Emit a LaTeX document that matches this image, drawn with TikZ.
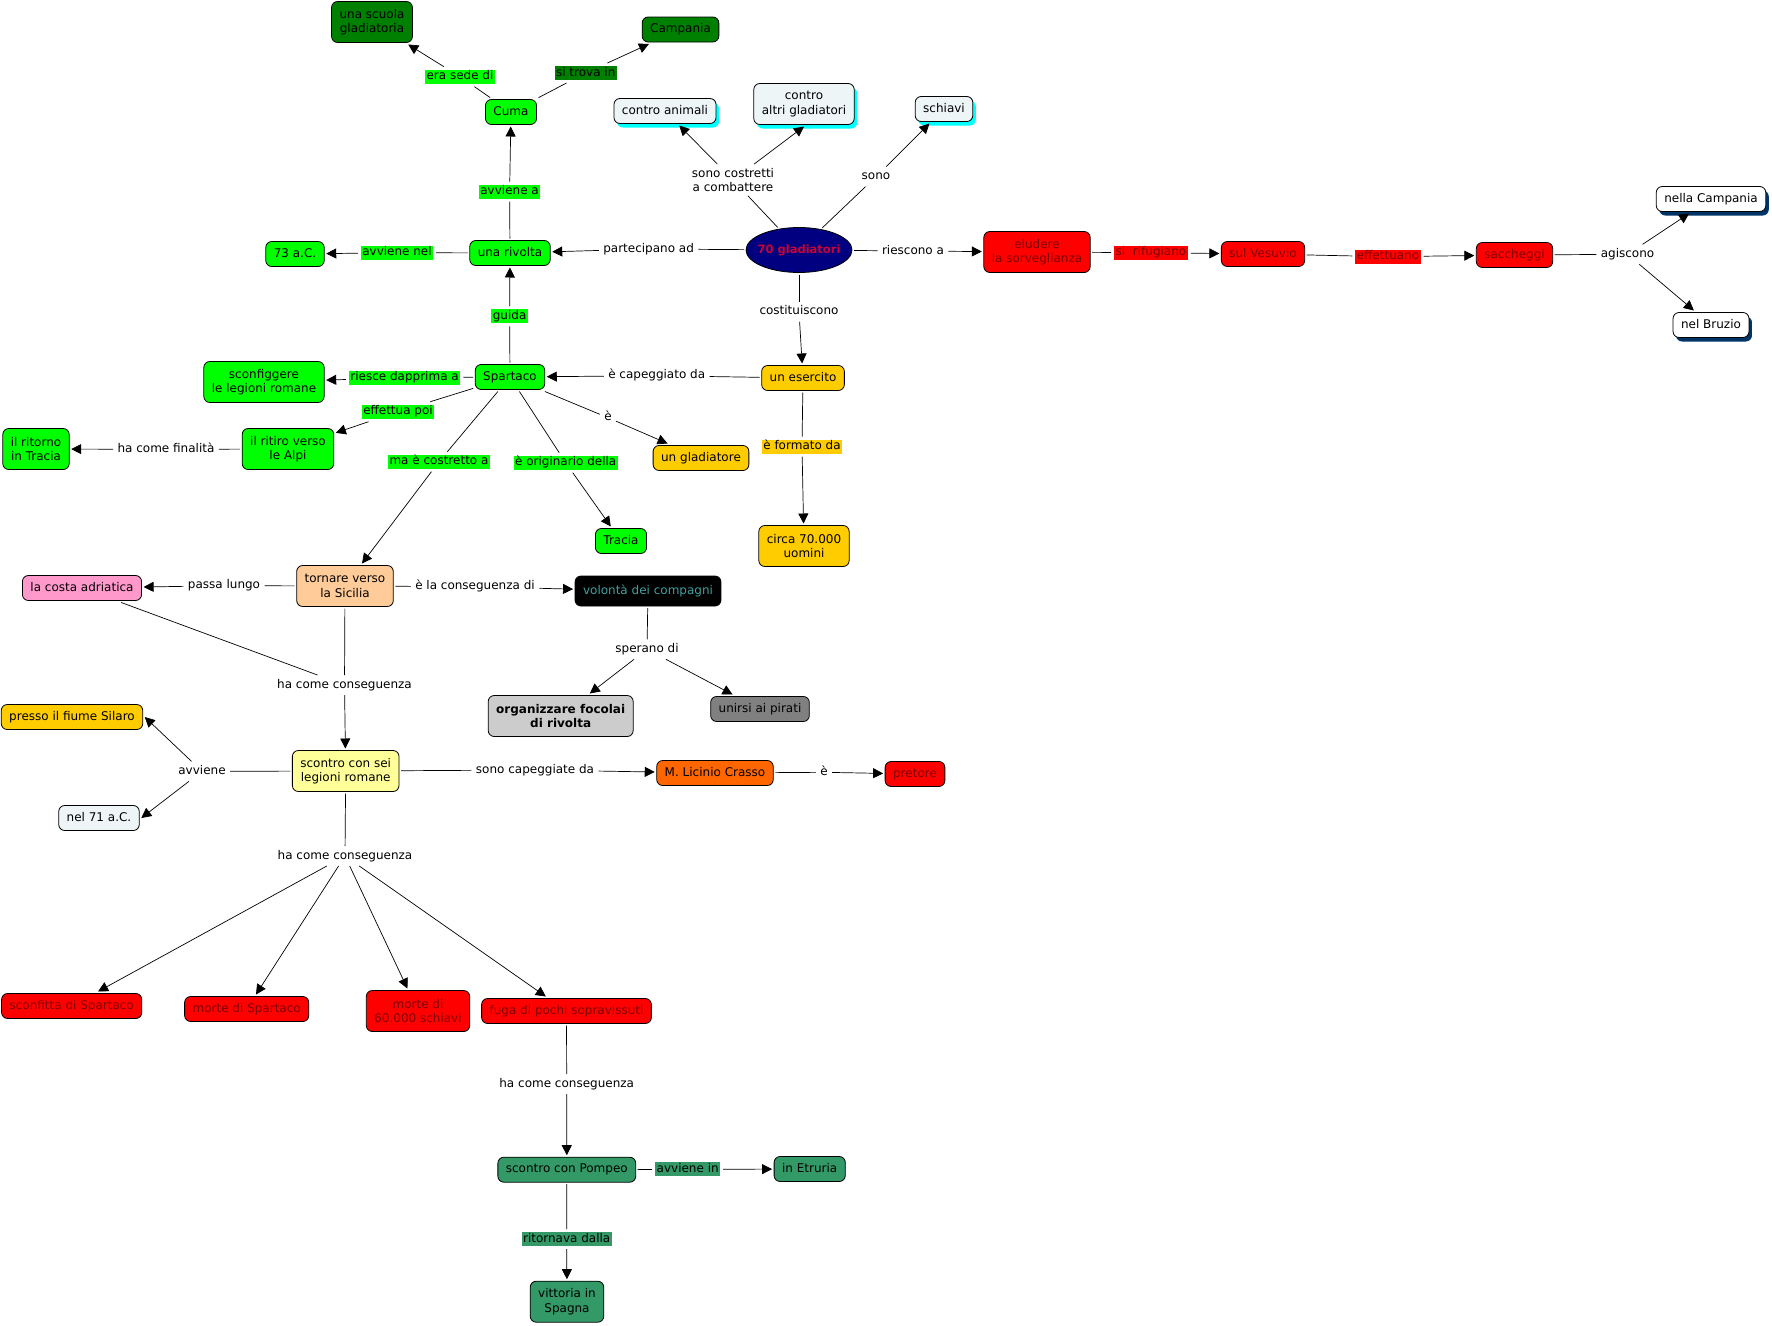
\documentclass[tikz,border=0pt]{standalone}
\usepackage{fontspec}
\setmainfont{DejaVu Sans}
\usepackage{xcolor}
\usetikzlibrary{arrows.meta, shapes.geometric, shadows}

\definecolor{darkgreen}{RGB}{0,128,0}
\definecolor{paleblue}{RGB}{237,245,247}
\definecolor{navy}{RGB}{0,0,128}
\definecolor{crimson}{RGB}{204,0,51}
\definecolor{maroon}{RGB}{128,0,0}
\definecolor{gold}{RGB}{255,204,0}
\definecolor{peach}{RGB}{255,204,153}
\definecolor{costapink}{RGB}{255,153,204}
\definecolor{volteal}{RGB}{64,160,160}
\definecolor{silver}{RGB}{204,204,204}
\definecolor{ash}{RGB}{128,128,128}
\definecolor{cream}{RGB}{255,255,153}
\definecolor{crassoorange}{RGB}{255,102,0}
\definecolor{seagreen}{RGB}{51,153,102}
\definecolor{shadownavy}{RGB}{0,51,102}
\definecolor{glowcyan}{RGB}{0,255,255}

\begin{document}
\begin{tikzpicture}[
    x=1pt, y=-1pt,
    every node/.style={font=\fontsize{12}{14.5}\selectfont},
    concept/.style={rectangle, rounded corners=6pt, draw=black, line width=0.8pt,
        fill=#1, minimum height=25pt, inner xsep=8pt, inner ysep=3pt,
        text height=9pt, text depth=3pt, align=center, outer sep=2pt},
    concept/.default=white,
    tall/.style={minimum height=41pt, text height={}, text depth={}},
    redbox/.style={concept=red, text=maroon},
    hub/.style={ellipse, draw=black, line width=0.8pt, fill=navy, text=crimson,
        font=\fontsize{11.5}{13}\selectfont\bfseries, inner xsep=-7pt, inner ysep=0pt,
        minimum width=106pt, minimum height=45pt, outer sep=2pt},
    cyanglow/.style={drop shadow={shadow xshift=3pt, shadow yshift=-4pt, fill=glowcyan, opacity=1}},
    navyglow/.style={drop shadow={shadow xshift=3pt, shadow yshift=-4pt, fill=shadownavy, opacity=1}},
    link/.style={fill=#1, inner xsep=1.5pt, inner ysep=1pt, text height=9pt,
        text depth=3pt, outer sep=3pt},
    link/.default=none,
    conn/.style={line width=0.7pt},
    arrow/.style={conn, -{Triangle[length=10pt, width=10pt]}},
]
\useasboundingbox (0,0) rectangle (1772,1325);

% --- Centre ---
\node[hub] (gladiatori) at (799,250) {70 gladiatori};

% --- Rivolta and Cuma ---
\node[concept=green] (rivolta) at (510,253) {una rivolta};
\node[concept=green] (anno73) at (295,254) {73 a.C.};
\node[concept=green] (cuma) at (511,112) {Cuma};
\node[concept=darkgreen, tall] (scuola) at (372,22) {una scuola\\gladiatoria};
\node[concept=darkgreen] (campania) at (680.5,29.5) {Campania};

% --- Combattimenti ---
\node[concept=paleblue, cyanglow] (animali) at (665,111) {contro animali};
\node[concept=paleblue, cyanglow, tall] (altri) at (804,104) {contro\\altri gladiatori};
\node[concept=paleblue, cyanglow] (schiavi) at (944,109) {schiavi};

% --- Fuga verso il Vesuvio ---
\node[redbox, tall] (eludere) at (1037,252) {eludere\\la sorveglianza};
\node[redbox] (vesuvio) at (1263,254) {sul Vesuvio};
\node[redbox] (saccheggi) at (1514.5,255) {saccheggi};
\node[concept, navyglow] (nellacampania) at (1711,199) {nella Campania};
\node[concept, navyglow] (bruzio) at (1711,325) {nel Bruzio};

% --- Spartaco and the army ---
\node[concept=green] (spartaco) at (510,377) {Spartaco};
\node[concept=gold] (esercito) at (803,378) {un esercito};
\node[concept=gold, tall] (uomini) at (804,546) {circa 70.000\\uomini};
\node[concept=gold] (gladiatore) at (701,458) {un gladiatore};
\node[concept=green] (tracia) at (621,541) {Tracia};
\node[concept=green, tall] (sconfiggere) at (264,382) {sconfiggere\\le legioni romane};
\node[concept=green, tall] (ritiro) at (288,449) {il ritiro verso\\le Alpi};
\node[concept=green, tall] (ritorno) at (36,449) {il ritorno\\in Tracia};

% --- Sicilia ---
\node[concept=peach, tall] (sicilia) at (345,586) {tornare verso\\la Sicilia};
\node[concept=costapink] (costa) at (82,588) {la costa adriatica};
\node[concept=black, text=volteal, minimum height=30pt] (volonta) at (648,591) {volontà dei compagni};
\node[concept=silver, tall, font=\fontsize{12}{14.5}\selectfont\bfseries] (focolai) at (560.7,716) {organizzare focolai\\di rivolta};
\node[concept=ash] (pirati) at (760,709) {unirsi ai pirati};

% --- Scontro con Crasso ---
\node[concept=cream, tall] (legioni) at (345.7,771) {scontro con sei\\legioni romane};
\node[concept=gold] (silaro) at (72,717) {presso il fiume Silaro};
\node[concept=paleblue] (nel71) at (99,818) {nel 71 a.C.};
\node[concept=crassoorange] (crasso) at (715,773) {M. Licinio Crasso};
\node[redbox] (pretore) at (915,774) {pretore};

% --- Conseguenze ---
\node[redbox] (sconfitta) at (71.7,1006) {sconfitta di Spartaco};
\node[redbox] (mortesp) at (246.7,1009) {morte di Spartaco};
\node[redbox, tall] (morteschiavi) at (418,1011) {morte di\\60.000 schiavi};
\node[redbox] (fuga) at (566.5,1011) {fuga di pochi sopravissuti};

% --- Pompeo ---
\node[concept=seagreen] (pompeo) at (566.8,1169.7) {scontro con Pompeo};
\node[concept=seagreen] (etruria) at (809.7,1169) {in Etruria};
\node[concept=seagreen, tall] (spagna) at (567,1301.7) {vittoria in\\Spagna};

% --- Linking phrases ---
\node[link=green] (lsede) at (460,76.7) {era sede di};
\node[link=darkgreen] (ltrova) at (585.7,73) {si trova in};
\node[link=green] (lavvienea) at (509.6,191.7) {avviene a};
\node[link=green] (lavvienenel) at (397,252.7) {avviene nel};
\node[link] (lpartecipano) at (648.6,249) {partecipano ad};
\node[link, text height={}, text depth={}, align=center] (lcostretti) at (733,180) {sono costretti\\a combattere};
\node[link] (lsono) at (876,176.7) {sono};
\node[link] (lriescono) at (913,251) {riescono a};
\node[link=red, text=maroon] (lrifugiano) at (1151,252.7) {si~~rifugiano};
\node[link=red, text=maroon] (leffettuano) at (1388,256.7) {effettuano};
\node[link] (lagiscono) at (1627.5,254.3) {agiscono};
\node[link] (lcostituiscono) at (799,311.7) {costituiscono};
\node[link] (lcapeggiato) at (656.7,375.7) {è capeggiato da};
\node[link=green] (lguida) at (509.6,316.4) {guida};
\node[link=gold] (lformato) at (802,446.7) {è formato da};
\node[link=green] (ldapprima) at (404.6,377.7) {riesce dapprima a};
\node[link=green] (leffettua) at (398,411.7) {effettua poi};
\node[link] (lfinalita) at (166,449.3) {ha come finalità};
\node[link=green] (lcostretto) at (439,461.7) {ma è costretto a};
\node[link=green] (loriginario) at (565.7,462.7) {è originario della};
\node[link] (le) at (608,417.7) {è};
\node[link] (lpassa) at (224,585.7) {passa lungo};
\node[link] (lconseg) at (475,586.7) {è la conseguenza di};
\node[link] (lconseguenza1) at (344.5,685) {ha come conseguenza};
\node[link] (lsperano) at (647,649.3) {sperano di};
\node[link] (lavviene) at (202,771.3) {avviene};
\node[link] (lcapeggiate) at (535,770) {sono capeggiate da};
\node[link] (le2) at (824,772.3) {è};
\node[link] (lconseguenza2) at (345,856) {ha come conseguenza};
\node[link] (lconseguenza3) at (566.7,1084) {ha come conseguenza};
\node[link=seagreen] (lavvienein) at (687.7,1169.3) {avviene in};
\node[link=seagreen] (lritornava) at (566.7,1239) {ritornava dalla};

% --- Connectors ---
\draw[conn] (cuma) -- (lsede) edge[arrow] (scuola);
\draw[conn] (cuma) -- (ltrova) edge[arrow] (campania);
\draw[conn] (rivolta) -- (lavvienea) edge[arrow] (cuma);
\draw[conn] (rivolta) -- (lavvienenel) edge[arrow] (anno73);
\draw[conn] (gladiatori) -- (lpartecipano) edge[arrow] (rivolta);
\draw[conn] (gladiatori) -- (lcostretti) edge[arrow] (animali) edge[arrow] (altri.south);
\draw[conn] (gladiatori) -- (lsono) edge[arrow] (schiavi);
\draw[conn] (gladiatori) -- (lriescono) edge[arrow] (eludere);
\draw[conn] (eludere) -- (lrifugiano) edge[arrow] (vesuvio);
\draw[conn] (vesuvio) -- (leffettuano) edge[arrow] (saccheggi);
\draw[conn] (saccheggi) -- (lagiscono) edge[arrow] (nellacampania) edge[arrow] (bruzio);
\draw[conn] (gladiatori) -- (lcostituiscono) edge[arrow] (esercito);
\draw[conn] (esercito) -- (lcapeggiato) edge[arrow] (spartaco);
\draw[conn] (esercito) -- (lformato) edge[arrow] (uomini);
\draw[conn] (spartaco) -- (lguida) edge[arrow] (rivolta);
\draw[conn] (spartaco) -- (ldapprima) edge[arrow] (sconfiggere);
\draw[conn] (spartaco) -- (leffettua) edge[arrow] (ritiro);
\draw[conn] (ritiro) -- (lfinalita) edge[arrow] (ritorno);
\draw[conn] (spartaco) -- (lcostretto) edge[arrow] (sicilia);
\draw[conn] (spartaco) -- (loriginario) edge[arrow] (tracia);
\draw[conn] (spartaco) -- (le) edge[arrow] (gladiatore);
\draw[conn] (sicilia) -- (lpassa) edge[arrow] (costa);
\draw[conn] (sicilia) -- (lconseg) edge[arrow] (volonta);
\draw[conn] (costa) -- (lconseguenza1);
\draw[conn] (sicilia) -- (lconseguenza1) edge[arrow] (legioni);
\draw[conn] (volonta) -- (lsperano) edge[arrow] (focolai) edge[arrow] (pirati);
\draw[conn] (legioni) -- (lavviene) edge[arrow] (silaro.east) edge[arrow] (nel71.east);
\draw[conn] (legioni) -- (lcapeggiate) edge[arrow] (crasso);
\draw[conn] (crasso) -- (le2) edge[arrow] (pretore);
\draw[conn] (legioni) -- (lconseguenza2) edge[arrow] (sconfitta) edge[arrow] (mortesp)
    edge[arrow] (morteschiavi) edge[arrow] (fuga);
\draw[conn] (fuga) -- (lconseguenza3) edge[arrow] (pompeo);
\draw[conn] (pompeo) -- (lavvienein) edge[arrow] (etruria);
\draw[conn] (pompeo) -- (lritornava) edge[arrow] (spagna);

\end{tikzpicture}
\end{document}
